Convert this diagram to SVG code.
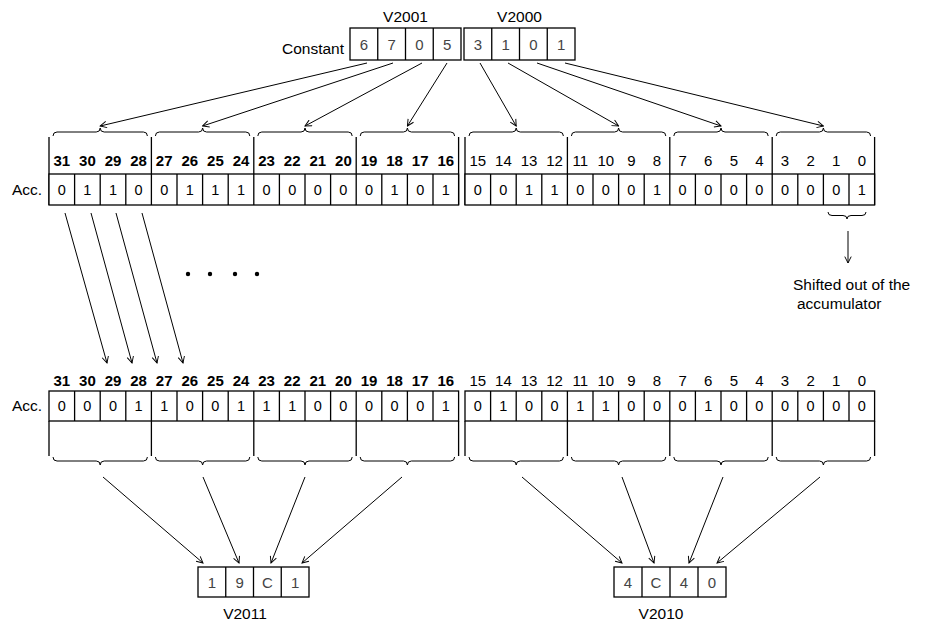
<svg xmlns="http://www.w3.org/2000/svg" width="925" height="622" viewBox="0 0 925 622">
<defs>
<marker id="ah" viewBox="0 0 10 10" refX="9" refY="5" markerWidth="8" markerHeight="8" markerUnits="userSpaceOnUse" orient="auto">
<path d="M1,1 L9,5 L1,9" fill="none" stroke="#000" stroke-width="1.2"/>
</marker>
<style>
.box{fill:#fff;stroke:#000;stroke-width:1.3}
.ln{stroke:#000;stroke-width:1.3;fill:none}
.br{stroke:#000;stroke-width:1;fill:none}
.ar{stroke:#000;stroke-width:1;fill:none;marker-end:url(#ah)}
text{font-family:"Liberation Sans",Arial,Helvetica,sans-serif;fill:#000}
.lbl{font-size:15.5px}
.hb{font-size:15px;font-weight:bold;text-anchor:middle}
.hr{font-size:15px;text-anchor:middle}
.d{font-size:14.5px;text-anchor:middle}
.k{font-size:15px;text-anchor:middle;fill:#444}
</style>
</defs>

<g id="constant">
<text class="lbl" x="344" y="54" text-anchor="end" font-size="16">Constant</text>
<text class="lbl" x="405.5" y="22" text-anchor="middle">V2001</text>
<text class="lbl" x="519.5" y="22" text-anchor="middle">V2000</text>
<rect class="box" x="350" y="28" width="111" height="32"/>
<rect class="box" x="464" y="28" width="111" height="32"/>
<path class="ln" d="M377.75,28V60M405.5,28V60M433.25,28V60M491.75,28V60M519.5,28V60M547.25,28V60"/>
<text class="k" x="363.9" y="49.5">6</text>
<text class="k" x="391.6" y="49.5">7</text>
<text class="k" x="419.4" y="49.5">0</text>
<text class="k" x="447.1" y="49.5">5</text>
<text class="k" x="477.9" y="49.5">3</text>
<text class="k" x="505.6" y="49.5">1</text>
<text class="k" x="533.4" y="49.5">0</text>
<text class="k" x="561.1" y="49.5">1</text>
</g>

<g id="acc-upper">
<text class="lbl" x="12" y="195">Acc.</text>
<path class="ln" d="M49,137V205M151.4,137V174M253.8,137V174M356.2,137V174M458.6,137V205M465,137V205M567.4,137V174M669.8,137V174M772.2,137V174M874.6,137V205"/>
<rect class="box" x="49" y="174" width="409.6" height="31"/>
<rect class="box" x="465" y="174" width="409.6" height="31"/>
<path class="ln" d="M74.6,174V205M100.2,174V205M125.8,174V205M151.4,174V205M177,174V205M202.6,174V205M228.2,174V205M253.8,174V205M279.4,174V205M305,174V205M330.6,174V205M356.2,174V205M381.8,174V205M407.4,174V205M433,174V205M490.6,174V205M516.2,174V205M541.8,174V205M567.4,174V205M593,174V205M618.6,174V205M644.2,174V205M669.8,174V205M695.4,174V205M721,174V205M746.6,174V205M772.2,174V205M797.8,174V205M823.4,174V205M849,174V205"/>
<g class="hb">
<text x="61.8" y="166">31</text><text x="87.4" y="166">30</text><text x="113" y="166">29</text><text x="138.6" y="166">28</text>
<text x="164.2" y="166">27</text><text x="189.8" y="166">26</text><text x="215.4" y="166">25</text><text x="241" y="166">24</text>
<text x="266.6" y="166">23</text><text x="292.2" y="166">22</text><text x="317.8" y="166">21</text><text x="343.4" y="166">20</text>
<text x="369" y="166">19</text><text x="394.6" y="166">18</text><text x="420.2" y="166">17</text><text x="445.8" y="166">16</text>
</g>
<g class="hr">
<text x="477.8" y="166">15</text><text x="503.4" y="166">14</text><text x="529" y="166">13</text><text x="554.6" y="166">12</text>
<text x="580.2" y="166">11</text><text x="605.8" y="166">10</text><text x="631.4" y="166">9</text><text x="657" y="166">8</text>
<text x="682.6" y="166">7</text><text x="708.2" y="166">6</text><text x="733.8" y="166">5</text><text x="759.4" y="166">4</text>
<text x="785" y="166">3</text><text x="810.6" y="166">2</text><text x="836.2" y="166">1</text><text x="861.8" y="166">0</text>
</g>
<g class="d">
<text x="61.8" y="195">0</text><text x="87.4" y="195">1</text><text x="113" y="195">1</text><text x="138.6" y="195">0</text>
<text x="164.2" y="195">0</text><text x="189.8" y="195">1</text><text x="215.4" y="195">1</text><text x="241" y="195">1</text>
<text x="266.6" y="195">0</text><text x="292.2" y="195">0</text><text x="317.8" y="195">0</text><text x="343.4" y="195">0</text>
<text x="369" y="195">0</text><text x="394.6" y="195">1</text><text x="420.2" y="195">0</text><text x="445.8" y="195">1</text>
<text x="477.8" y="195">0</text><text x="503.4" y="195">0</text><text x="529" y="195">1</text><text x="554.6" y="195">1</text>
<text x="580.2" y="195">0</text><text x="605.8" y="195">0</text><text x="631.4" y="195">0</text><text x="657" y="195">1</text>
<text x="682.6" y="195">0</text><text x="708.2" y="195">0</text><text x="733.8" y="195">0</text><text x="759.4" y="195">0</text>
<text x="785" y="195">0</text><text x="810.6" y="195">0</text><text x="836.2" y="195">0</text><text x="861.8" y="195">1</text>
</g>
<path class="br" d="M53,136Q53,132 57,132L96.2,132Q100.2,132 100.2,128Q100.2,132 104.2,132L143.4,132Q147.4,132 147.4,136
M155.4,136Q155.4,132 159.4,132L198.6,132Q202.6,132 202.6,128Q202.6,132 206.6,132L245.8,132Q249.8,132 249.8,136
M257.8,136Q257.8,132 261.8,132L301,132Q305,132 305,128Q305,132 309,132L348.2,132Q352.2,132 352.2,136
M360.2,136Q360.2,132 364.2,132L403.4,132Q407.4,132 407.4,128Q407.4,132 411.4,132L450.6,132Q454.6,132 454.6,136
M469,136Q469,132 473,132L512.2,132Q516.2,132 516.2,128Q516.2,132 520.2,132L559.4,132Q563.4,132 563.4,136
M571.4,136Q571.4,132 575.4,132L614.6,132Q618.6,132 618.6,128Q618.6,132 622.6,132L661.8,132Q665.8,132 665.8,136
M673.8,136Q673.8,132 677.8,132L717,132Q721,132 721,128Q721,132 725,132L764.2,132Q768.2,132 768.2,136
M776.2,136Q776.2,132 780.2,132L819.4,132Q823.4,132 823.4,128Q823.4,132 827.4,132L866.6,132Q870.6,132 870.6,136"/>
<path class="br" d="M828,212Q828,215.5 832,215.5L843,215.5Q847,215.5 847,219Q847,215.5 851,215.5L862,215.5Q866,215.5 866,212"/>
</g>

<g id="shifted-note">
<text class="lbl" x="793" y="290">Shifted out of the</text>
<text class="lbl" x="797" y="309">accumulator</text>
</g>

<g id="dots">
<circle cx="188" cy="274" r="2.2"/>
<circle cx="210" cy="274" r="2.2"/>
<circle cx="235" cy="274" r="2.2"/>
<circle cx="257" cy="274" r="2.2"/>
</g>

<g id="acc-lower">
<text class="lbl" x="12" y="411">Acc.</text>
<rect class="box" x="49" y="391" width="409.6" height="30"/>
<rect class="box" x="465" y="391" width="409.6" height="30"/>
<path class="ln" d="M49,421V456M151.4,421V456M253.8,421V456M356.2,421V456M458.6,421V456M465,421V456M567.4,421V456M669.8,421V456M772.2,421V456M874.6,421V456"/>
<path class="ln" d="M74.6,391V421M100.2,391V421M125.8,391V421M151.4,391V421M177,391V421M202.6,391V421M228.2,391V421M253.8,391V421M279.4,391V421M305,391V421M330.6,391V421M356.2,391V421M381.8,391V421M407.4,391V421M433,391V421M490.6,391V421M516.2,391V421M541.8,391V421M567.4,391V421M593,391V421M618.6,391V421M644.2,391V421M669.8,391V421M695.4,391V421M721,391V421M746.6,391V421M772.2,391V421M797.8,391V421M823.4,391V421M849,391V421"/>
<g class="hb">
<text x="61.8" y="386">31</text><text x="87.4" y="386">30</text><text x="113" y="386">29</text><text x="138.6" y="386">28</text>
<text x="164.2" y="386">27</text><text x="189.8" y="386">26</text><text x="215.4" y="386">25</text><text x="241" y="386">24</text>
<text x="266.6" y="386">23</text><text x="292.2" y="386">22</text><text x="317.8" y="386">21</text><text x="343.4" y="386">20</text>
<text x="369" y="386">19</text><text x="394.6" y="386">18</text><text x="420.2" y="386">17</text><text x="445.8" y="386">16</text>
</g>
<g class="hr">
<text x="477.8" y="386">15</text><text x="503.4" y="386">14</text><text x="529" y="386">13</text><text x="554.6" y="386">12</text>
<text x="580.2" y="386">11</text><text x="605.8" y="386">10</text><text x="631.4" y="386">9</text><text x="657" y="386">8</text>
<text x="682.6" y="386">7</text><text x="708.2" y="386">6</text><text x="733.8" y="386">5</text><text x="759.4" y="386">4</text>
<text x="785" y="386">3</text><text x="810.6" y="386">2</text><text x="836.2" y="386">1</text><text x="861.8" y="386">0</text>
</g>
<g class="d">
<text x="61.8" y="411">0</text><text x="87.4" y="411">0</text><text x="113" y="411">0</text><text x="138.6" y="411">1</text>
<text x="164.2" y="411">1</text><text x="189.8" y="411">0</text><text x="215.4" y="411">0</text><text x="241" y="411">1</text>
<text x="266.6" y="411">1</text><text x="292.2" y="411">1</text><text x="317.8" y="411">0</text><text x="343.4" y="411">0</text>
<text x="369" y="411">0</text><text x="394.6" y="411">0</text><text x="420.2" y="411">0</text><text x="445.8" y="411">1</text>
<text x="477.8" y="411">0</text><text x="503.4" y="411">1</text><text x="529" y="411">0</text><text x="554.6" y="411">0</text>
<text x="580.2" y="411">1</text><text x="605.8" y="411">1</text><text x="631.4" y="411">0</text><text x="657" y="411">0</text>
<text x="682.6" y="411">0</text><text x="708.2" y="411">1</text><text x="733.8" y="411">0</text><text x="759.4" y="411">0</text>
<text x="785" y="411">0</text><text x="810.6" y="411">0</text><text x="836.2" y="411">0</text><text x="861.8" y="411">0</text>
</g>
<path class="br" d="M53,457Q53,461 57,461L96.2,461Q100.2,461 100.2,465Q100.2,461 104.2,461L143.4,461Q147.4,461 147.4,457
M155.4,457Q155.4,461 159.4,461L198.6,461Q202.6,461 202.6,465Q202.6,461 206.6,461L245.8,461Q249.8,461 249.8,457
M257.8,457Q257.8,461 261.8,461L301,461Q305,461 305,465Q305,461 309,461L348.2,461Q352.2,461 352.2,457
M360.2,457Q360.2,461 364.2,461L403.4,461Q407.4,461 407.4,465Q407.4,461 411.4,461L450.6,461Q454.6,461 454.6,457
M469,457Q469,461 473,461L512.2,461Q516.2,461 516.2,465Q516.2,461 520.2,461L559.4,461Q563.4,461 563.4,457
M571.4,457Q571.4,461 575.4,461L614.6,461Q618.6,461 618.6,465Q618.6,461 622.6,461L661.8,461Q665.8,461 665.8,457
M673.8,457Q673.8,461 677.8,461L717,461Q721,461 721,465Q721,461 725,461L764.2,461Q768.2,461 768.2,457
M776.2,457Q776.2,461 780.2,461L819.4,461Q823.4,461 823.4,465Q823.4,461 827.4,461L866.6,461Q870.6,461 870.6,457"/>
</g>

<g id="v2011">
<rect class="box" x="198" y="567" width="111" height="30"/>
<path class="ln" d="M225.75,567V597M253.5,567V597M281.25,567V597"/>
<text class="k" x="211.9" y="587.5">1</text>
<text class="k" x="239.6" y="587.5">9</text>
<text class="k" x="267.4" y="587.5">C</text>
<text class="k" x="295.1" y="587.5">1</text>
<text class="lbl" x="245" y="619" text-anchor="middle">V2011</text>
</g>

<g id="v2010">
<rect class="box" x="614" y="567" width="112" height="30"/>
<path class="ln" d="M642,567V597M670,567V597M698,567V597"/>
<text class="k" x="628" y="587.5">4</text>
<text class="k" x="656" y="587.5">C</text>
<text class="k" x="684" y="587.5">4</text>
<text class="k" x="712" y="587.5">0</text>
<text class="lbl" x="661" y="619" text-anchor="middle">V2010</text>
</g>

<g id="connectors">
<path class="ar" d="M367,63L100.2,126"/>
<path class="ar" d="M393,63L202.6,126"/>
<path class="ar" d="M422,63L305,126"/>
<path class="ar" d="M447,63L407.4,126"/>
<path class="ar" d="M480,63L516.2,126"/>
<path class="ar" d="M508,63L618.6,126"/>
<path class="ar" d="M537,63L721,126"/>
<path class="ar" d="M565,63L823.4,126"/>
<path class="ar" d="M848,231L848,263"/>
<path class="ar" d="M65,213L107,363"/>
<path class="ar" d="M91,213L132,363"/>
<path class="ar" d="M116,213L157,363"/>
<path class="ar" d="M142,213L183,363"/>
<path class="ar" d="M103,477L203,563"/>
<path class="ar" d="M203,477L239,563"/>
<path class="ar" d="M305,477L271,563"/>
<path class="ar" d="M402,477L302,563"/>
<path class="ar" d="M522,477L622,563"/>
<path class="ar" d="M622,477L654,563"/>
<path class="ar" d="M723,477L689,563"/>
<path class="ar" d="M820,477L717,563"/>
</g>
</svg>
